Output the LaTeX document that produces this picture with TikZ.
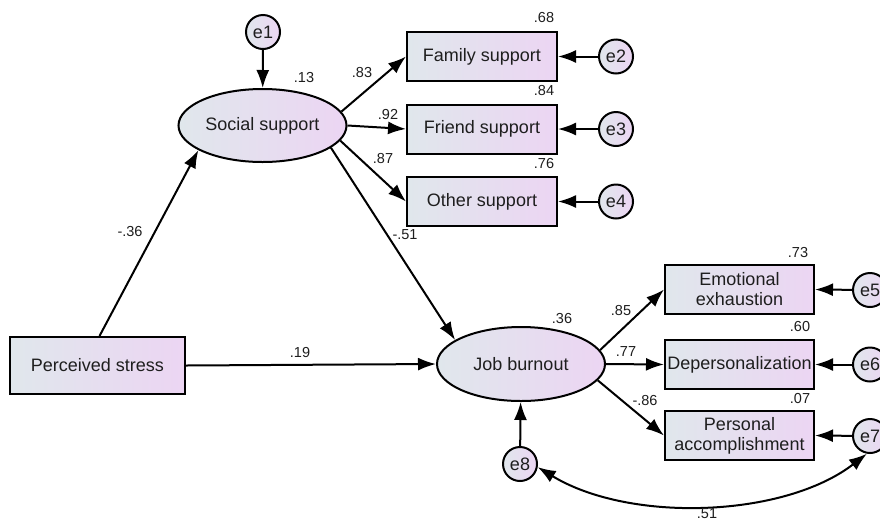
\documentclass[tikz,border=0pt]{standalone}
\usepackage{fontspec}
\setmainfont{Liberation Sans}
\usetikzlibrary{arrows.meta,shapes.geometric}
\definecolor{gl}{RGB}{224,231,236}
\definecolor{gr}{RGB}{236,213,243}
\definecolor{txt}{RGB}{30,30,30}
\begin{document}
\begin{tikzpicture}[x=1pt,y=-1pt,
  every node/.style={text=txt},
  shade/.style={left color=gl,right color=gr,shading angle=90},
  obsbox/.style={draw,line width=2pt,shade,rectangle,minimum width=150pt,minimum height=49pt,inner sep=0pt,font=\fontsize{18}{20}\selectfont,align=center},
  latent/.style={draw,line width=2pt,shade,ellipse,minimum width=168pt,minimum height=73pt,inner sep=0pt,font=\fontsize{18}{20}\selectfont},
  errc/.style={draw,line width=2pt,shade,circle,minimum size=34pt,inner sep=0pt,font=\fontsize{18}{20}\selectfont},
  coef/.style={inner sep=0pt,font=\fontsize{14.5}{16}\selectfont},
  arr/.style={line width=2pt,-{Latex[length=18pt,width=13pt]}},
  darr/.style={line width=2pt,{Latex[length=18pt,width=13pt]}-{Latex[length=18pt,width=13pt]}}
]
\useasboundingbox (0,0) rectangle (880,523);
\fill[white] (0,0) rectangle (880,523);
% nodes
\node[latent] (ss) at (262.5,125.5) {Social support};
\node[latent,minimum height=74pt] (jb) at (521,364) {Job burnout};
\node[obsbox] (fam) at (482,56.5) {Family support};
\node[obsbox] (fri) at (482,129) {Friend support};
\node[obsbox] (oth) at (482,201.5) {Other support};
\node[obsbox,minimum width=175pt,minimum height=57pt] (ps) at (97.5,365.5) {Perceived stress};
\node[obsbox,minimum width=149pt] (emo) at (739.5,289.5) {Emotional\\exhaustion};
\node[obsbox,minimum width=149pt] (dep) at (739.5,364.5) {Depersonalization};
\node[obsbox,minimum width=149pt] (per) at (739.5,435.5) {Personal\\accomplishment};
\node[errc] (e1) at (263,32) {e1};
\node[errc] (e2) at (616,56.5) {e2};
\node[errc] (e3) at (616,129) {e3};
\node[errc] (e4) at (616,201.5) {e4};
\node[errc] (e5) at (870,290) {e5};
\node[errc] (e6) at (870,364.5) {e6};
\node[errc] (e7) at (870,436) {e7};
\node[errc] (e8) at (520,464) {e8};
% arrows
\draw[arr] (e1) -- (ss);
\draw[arr] (ss.10) -- (fam.west);
\draw[arr] (ss.east) -- (fri.west);
\draw[arr] (ss.-11) -- (oth.west);
\draw[arr] (ss.-18) -- (jb.160);
\draw[arr] (ps.north) ++(2,0) coordinate (psn) -- (ss.201);
\draw[arr] (ps.east) -- (jb.west);
\draw[arr] (jb.10) -- (emo.west);
\draw[arr] (jb.east) -- (dep.west);
\draw[arr] (jb.-12) -- (per.west);
\draw[arr] (e2) -- (fam.east);
\draw[arr] (e3) -- (fri.east);
\draw[arr] (e4) -- (oth.east);
\draw[arr] (e5) -- (emo.east);
\draw[arr] (e6) -- (dep.east);
\draw[arr] (e7) -- (per.east);
\draw[arr] (e8) -- (jb);
\draw[darr] (e8.-10) .. controls +(92,56) and +(-83,64) .. (e7.-100);
% coefficients
\node[coef] (c13) at (304,78) {.13};
\node[coef] (c68) at (544,18) {.68};
\node[coef] (c84) at (544,91) {.84};
\node[coef] (c76) at (544,164) {.76};
\node[coef] (c83) at (362,73) {.83};
\node[coef] (c92) at (388,115) {.92};
\node[coef] (c87) at (383,159) {.87};
\node[coef] (c51n) at (405,235) {-.51};
\node[coef] (c36n) at (130,232) {-.36};
\node[coef] (c19) at (300,352) {.19};
\node[coef] (c36) at (562,318) {.36};
\node[coef] (c73) at (798,253) {.73};
\node[coef] (c60) at (800,326) {.60};
\node[coef] (c07) at (800,398) {.07};
\node[coef] (c85) at (621,310) {.85};
\node[coef] (c77) at (626,352) {.77};
\node[coef] (c86n) at (645,400) {-.86};
\node[coef] (c51) at (707,514) {.51};
\end{tikzpicture}
\end{document}
